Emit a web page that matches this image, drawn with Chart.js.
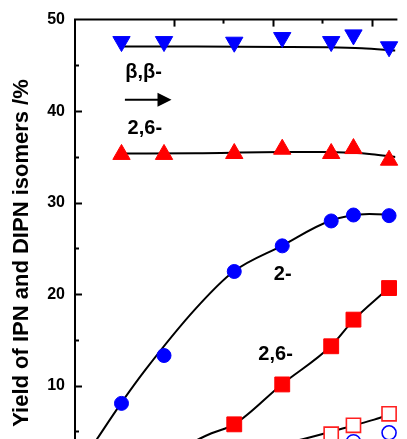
<!DOCTYPE html>
<html>
<head>
<meta charset="utf-8">
<script src="https://cdn.jsdelivr.net/npm/chart.js"></script>
<style>
  html, body { margin: 0; padding: 0; background: #fff; overflow: hidden; }
  #wrap { width: 407px; height: 439px; overflow: hidden; }
</style>
</head>
<body>
<div id="wrap"><canvas id="chart" width="407" height="506"></canvas></div>
<script>
// sampling positions (x axis units, axis labels are outside the crop)
const times = [0.94, 1.80, 3.22, 4.19, 5.18, 5.63, 6.35];

// measured points
const betaBeta = [47.60, 47.60, 47.53, 48.04, 47.60, 48.33, 47.03];   // beta,beta- (down triangles)
const dipn26 = [35.27, 35.27, 35.37, 35.84, 35.37, 35.91, 34.64];     // 2,6- (up triangles)
const ipn2 = [8.07, 13.30, 22.48, 25.28, 28.00, 28.65, 28.58];        // 2- (filled circles)
const ipn26 = [null, null, 5.78, 10.14, 14.31, 17.22, 20.67];         // 2,6- (filled squares)
const openSq = [null, null, null, null, 4.70, 5.68, 6.93];            // open squares
const openCirc = [null, null, null, null, null, 3.88, 4.86];          // open circles

// fitted curves
const fitBBx = [0.94, 2.44, 4.2, 5.1, 5.8, 6.48];
const fitBBy = [47.06, 47.06, 47.02, 46.97, 46.86, 46.62];
const fit26x = [0.94, 2.44, 4.2, 5.0, 5.6, 6.0, 6.48];
const fit26y = [35.37, 35.40, 35.53, 35.53, 35.45, 35.30, 35.00];
const fit2x = [0.3, 0.455, 0.93, 1.43, 2.44, 3.20, 4.18, 5.15, 5.95, 6.48];
const fit2y = [3.0, 4.26, 8.07, 11.78, 18.42, 22.45, 25.28, 28.00, 28.76, 28.65];
const fitSqx = [2.3, 2.54, 2.76, 3.22, 4.18, 5.17, 5.64, 6.34, 6.48];
const fitSqy = [3.5, 4.26, 4.81, 5.78, 10.14, 14.31, 17.22, 20.67, 21.40];
const fitOpx = [4.4, 4.68, 5.63, 6.05, 6.48];
const fitOpy = [3.9, 4.26, 5.66, 6.30, 7.10];

// top axis tick positions (x units)
const topTicks = [2, 3, 4, 5, 6];

// text annotations
const noteText = ["\u03b2,\u03b2-", "2,6-", "2-", "2,6-"];
const noteX = [1.015, 1.063, 4.02, 3.707];
const noteY = [43.63, 37.48, 21.5, 12.86];
const arrowX = [1.009, 1.951];
const arrowY = 41.23;

const FONT = "'Liberation Sans', Arial, sans-serif";

function pts(xs, ys) {
    return xs.map((x, i) => ({ x: x, y: ys[i] }));
}

function markers(ys, style, color, filled, radius, rot) {
    return {
        data: pts(times, ys),
        showLine: false,
        pointStyle: style,
        pointRotation: rot || 0,
        pointRadius: radius,
        pointHoverRadius: radius,
        pointBackgroundColor: filled ? color : "#fff",
        pointBorderColor: color,
        pointBorderWidth: filled ? 1 : 1.6,
        clip: false,
        order: 1
    };
}

function curve(xs, ys) {
    return {
        data: pts(xs, ys),
        showLine: true,
        borderColor: "#000",
        borderWidth: 2,
        pointRadius: 0,
        cubicInterpolationMode: "monotone",
        fill: false,
        order: 2
    };
}

const decor = {
    id: "decor",
    afterDatasetsDraw(chart) {
        const { ctx, chartArea: a, scales } = chart;
        const xs = scales.x, ys = scales.y;
        ctx.save();
        ctx.strokeStyle = "#000";
        ctx.lineWidth = 2;

        // top frame
        ctx.beginPath();
        ctx.moveTo(a.left - 1, a.top);
        ctx.lineTo(a.right + 2, a.top);
        ctx.stroke();

        // inward ticks on the top axis
        topTicks.forEach((v) => {
            const px = Math.round(xs.getPixelForValue(v)) + 0.5;
            const len = v % 2 === 0 ? 7 : 4;
            ctx.beginPath();
            ctx.moveTo(px, a.top);
            ctx.lineTo(px, a.top + len);
            ctx.stroke();
        });

        // inward ticks on the left axis
        ys.ticks.forEach((t) => {
            if (t.value <= 0 || t.value >= 50) return;
            const py = Math.round(ys.getPixelForValue(t.value)) + 0.5;
            const len = t.value % 10 === 0 ? 7 : 4;
            ctx.beginPath();
            ctx.moveTo(a.left, py);
            ctx.lineTo(a.left + len, py);
            ctx.stroke();
        });

        // labels
        ctx.fillStyle = "#000";
        ctx.font = "bold 20px " + FONT;
        ctx.textAlign = "left";
        ctx.textBaseline = "alphabetic";
        noteText.forEach((s, i) => {
            ctx.fillText(s, xs.getPixelForValue(noteX[i]), ys.getPixelForValue(noteY[i]));
        });

        // arrow
        const x0 = xs.getPixelForValue(arrowX[0]);
        const x1 = xs.getPixelForValue(arrowX[1]);
        const yA = ys.getPixelForValue(arrowY);
        ctx.beginPath();
        ctx.moveTo(x0, yA);
        ctx.lineTo(x1 - 12, yA);
        ctx.stroke();
        ctx.beginPath();
        ctx.moveTo(x1, yA);
        ctx.lineTo(x1 - 14, yA - 7);
        ctx.lineTo(x1 - 14, yA + 7);
        ctx.closePath();
        ctx.fill();
        ctx.restore();
    }
};

new Chart(document.getElementById("chart"), {
    type: "scatter",
    data: {
        datasets: [
            markers(betaBeta, "triangle", "#0000ff", true, 10, 180),
            markers(dipn26, "triangle", "#ff0000", true, 10, 0),
            markers(ipn2, "circle", "#0000ff", true, 7),
            markers(ipn26, "rect", "#ff0000", true, 10.5),
            markers(openSq, "rect", "#ff2020", false, 10),
            markers(openCirc, "circle", "#0000ff", false, 7),
            curve(fitBBx, fitBBy),
            curve(fit26x, fit26y),
            curve(fit2x, fit2y),
            curve(fitSqx, fitSqy),
            curve(fitOpx, fitOpy)
        ]
    },
    options: {
        responsive: false,
        animation: false,
        layout: { padding: { top: 19, left: 0, right: 0, bottom: 0 } },
        plugins: {
            legend: { display: false },
            tooltip: { enabled: false }
        },
        scales: {
            x: {
                type: "linear",
                display: false,
                min: 0,
                max: 6.478
            },
            y: {
                type: "linear",
                min: -1,
                max: 50,
                afterFit: (scale) => { scale.width = 75; },
                grid: { display: false, drawTicks: false },
                border: { display: true, color: "#000", width: 2 },
                ticks: {
                    stepSize: 5,
                    padding: 10,
                    color: "#000",
                    font: { family: FONT, size: 16, weight: "bold" },
                    callback: (v) => (v > 0 && v % 10 === 0 ? String(v) : "")
                },
                title: {
                    display: true,
                    text: "Yield of IPN and DIPN isomers /%",
                    color: "#000",
                    font: { family: FONT, size: 22, weight: "bold" },
                    padding: { top: 9, bottom: 0 }
                }
            }
        }
    },
    plugins: [decor]
});
</script>
</body>
</html>
